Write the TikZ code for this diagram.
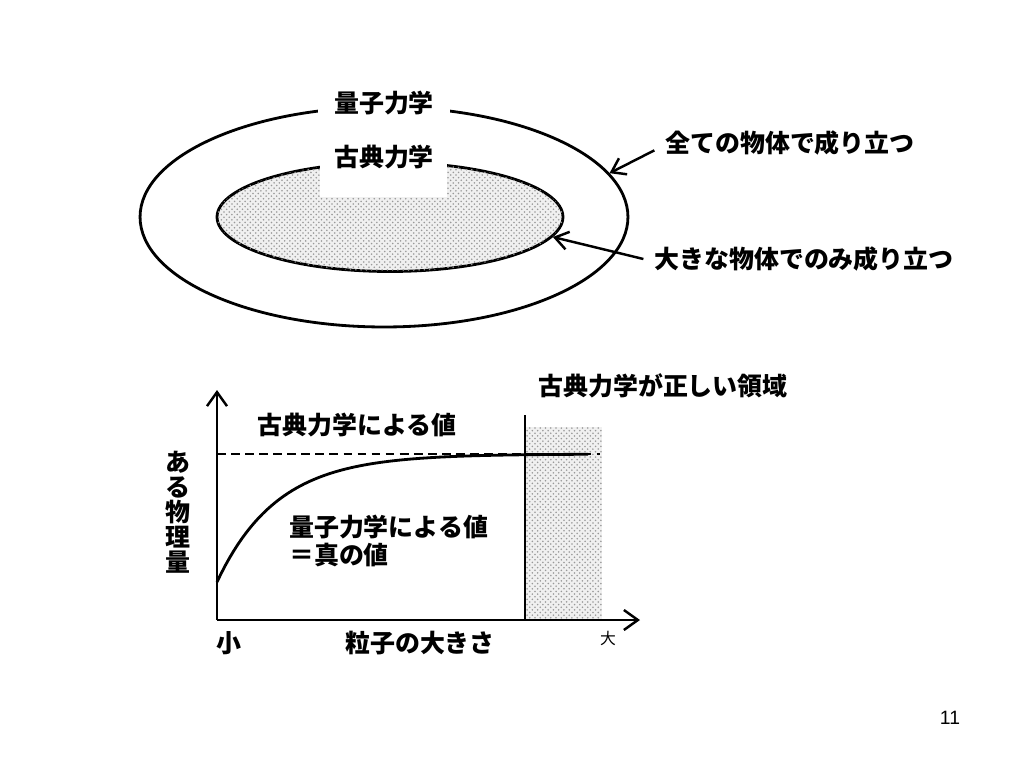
\documentclass[tikz,border=0pt]{standalone}
\usepackage{fontspec}
\newfontfamily\jpfont{Noto Sans CJK JP}
\newfontfamily\numfont{Liberation Sans}
\usetikzlibrary{shapes.geometric,patterns,arrows.meta}

\tikzset{
  lbl/.style={font=\jpfont\bfseries\fontsize{14.2}{16}\selectfont, inner sep=1pt},
  ring/.style={draw, ellipse, line width=1.6pt, inner sep=0pt},
  dotted fill/.style={fill=gray!12, postaction={pattern=crosshatch dots, pattern color=gray!80}},
  arr/.style={-{Straight Barb[length=2.6mm,width=3.6mm]}, line width=1.4pt},
  axis/.style={-{Straight Barb[length=2.8mm,width=4mm]}, line width=1.4pt}
}

\begin{document}
\begin{tikzpicture}[x=0.02cm, y=-0.02cm]
\useasboundingbox (0,0) rectangle (1024,768);
% Ellipses
\node[ring, minimum width=9.76cm, minimum height=4.4cm] (outer) at (384,217) {};
\node[ring, dotted fill, minimum width=6.92cm, minimum height=2.18cm] (inner) at (390,217) {};
\fill[white] (318,90) rectangle (450,120);
\fill[white] (320,138) rectangle (447,197);
\node[lbl] (qm) at (384,103) {量子力学};
\node[lbl] (cm) at (384,157) {古典力学};
\node[lbl] (all) at (790,143) {全ての物体で成り立つ};
\node[lbl] (big) at (804,259) {大きな物体でのみ成り立つ};
\draw[arr] ([xshift=-5pt,yshift=4pt]all.south west) -- (outer.11);
\draw[arr] ([xshift=-5pt]big.west) -- (inner.-7);
% Graph
\coordinate (O) at (217,620);
\coordinate (ytop) at (217,390);
\coordinate (xend) at (640,620);
\fill[dotted fill] (525,427) rectangle (602,620);
\draw[line width=0.6pt] (525,415) -- (525,620);
\draw[dash pattern=on 5pt off 3pt, line width=0.6pt] (217,454) -- (600,454);
\draw[line width=1.6pt] plot[domain=217:588, samples=90] (\x, {454+128*exp(-(\x-217)/60)});
\draw[axis] (O) -- (ytop);
\draw[axis] (O) -- (xend);
\node[lbl] (region) at (663,386) {古典力学が正しい領域};
\node[lbl] (clval) at (357,425) {古典力学による値};
\node[lbl, align=left, anchor=west] (qmval) at (287,541) {量子力学による値\\＝真の値};
\node[lbl, align=center, font=\jpfont\bfseries\fontsize{14.2}{14.2}\selectfont] (ylab) at (178,512) {あ\\る\\物\\理\\量};
\node[lbl] (small) at (229,643) {小};
\node[lbl] (xlab) at (420,643) {粒子の大きさ};
\node[font=\jpfont\fontsize{9}{10}\selectfont, inner sep=1pt] (large) at (608,638) {大};
\node[font=\numfont\fontsize{11}{12}\selectfont] (page) at (950,718) {11};
\end{tikzpicture}
\end{document}
